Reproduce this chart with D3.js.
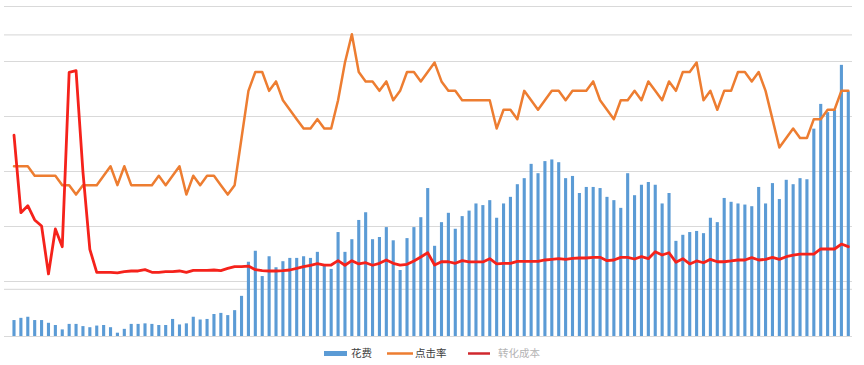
<!DOCTYPE html>
<html>
<head>
<meta charset="utf-8">
<script src="https://cdn.jsdelivr.net/npm/d3@7"></script>
<style>
	body { margin: 0; background: #fff; }
	svg { display: block; }
	.legend text { font-family: "Noto Sans CJK SC", "Noto Sans", sans-serif; font-size: 10.5px; }
</style>
</head>
<body>
<svg id="chart" width="864" height="365"></svg>
<script>
// 花费 (bars)
var spend = [
	290, 330, 350, 290, 290, 240, 200, 120, 220, 220,
	180, 160, 190, 200, 160, 60, 130, 220, 220, 230,
	220, 200, 200, 310, 210, 230, 350, 300, 310, 400,
	420, 380, 470, 730, 1350, 1550, 1090, 1450, 1250, 1360,
	1420, 1420, 1450, 1420, 1530, 1310, 1220, 1890, 1530, 1760,
	2110, 2250, 1760, 1800, 1980, 1740, 1200, 1780, 1980, 2160,
	2690, 1640, 2070, 2240, 1950, 2180, 2280, 2410, 2380, 2470,
	2150, 2410, 2530, 2760, 2870, 3130, 2960, 3180, 3210, 3160,
	2870, 2910, 2600, 2710, 2710, 2690, 2530, 2470, 2330, 2960,
	2560, 2750, 2800, 2750, 2410, 2600, 1730, 1840, 1890, 1910,
	1870, 2150, 2070, 2510, 2440, 2410, 2390, 2360, 2710, 2410,
	2780, 2490, 2840, 2760, 2870, 2850, 3770, 4220, 4070, 4110,
	4930, 4450
];

// 点击率 (%)
var clickRate = [
	1.8, 1.8, 1.8, 1.7, 1.7, 1.7, 1.7, 1.6, 1.6, 1.5,
	1.6, 1.6, 1.6, 1.7, 1.8, 1.6, 1.8, 1.6, 1.6, 1.6,
	1.6, 1.7, 1.6, 1.7, 1.8, 1.5, 1.7, 1.6, 1.7, 1.7,
	1.6, 1.5, 1.6, 2.1, 2.6, 2.8, 2.8, 2.6, 2.7, 2.5,
	2.4, 2.3, 2.2, 2.2, 2.3, 2.2, 2.2, 2.5, 2.9, 3.2,
	2.8, 2.7, 2.7, 2.6, 2.7, 2.5, 2.6, 2.8, 2.8, 2.7,
	2.8, 2.9, 2.7, 2.6, 2.6, 2.5, 2.5, 2.5, 2.5, 2.5,
	2.2, 2.4, 2.4, 2.3, 2.6, 2.5, 2.4, 2.5, 2.6, 2.6,
	2.5, 2.6, 2.6, 2.6, 2.7, 2.5, 2.4, 2.3, 2.5, 2.5,
	2.6, 2.5, 2.7, 2.6, 2.5, 2.7, 2.6, 2.8, 2.8, 2.9,
	2.5, 2.6, 2.4, 2.6, 2.6, 2.8, 2.8, 2.7, 2.8, 2.6,
	2.3, 2.0, 2.1, 2.2, 2.1, 2.1, 2.3, 2.3, 2.4, 2.4,
	2.6, 2.6
];

// 转化成本
var cost = [
	182.7, 112.1, 118.5, 105.5, 100.0, 56.4, 97.3, 81.2, 239.7, 241.2,
	149.1, 78.8, 57.9, 57.9, 57.9, 57.3, 58.5, 59.1, 59.1, 60.3,
	57.9, 57.9, 58.5, 58.5, 59.1, 57.9, 59.7, 59.7, 59.7, 60.0,
	59.5, 61.4, 63.0, 63.0, 63.6, 60.3, 59.5, 59.1, 59.1, 59.4,
	60.0, 61.4, 63.0, 64.3, 65.7, 64.5, 64.5, 68.5, 64.3, 68.5,
	65.5, 66.6, 64.3, 66.1, 69.1, 66.1, 64.5, 65.2, 68.2, 71.8,
	75.7, 64.5, 67.5, 67.5, 66.1, 68.5, 67.3, 67.3, 67.3, 70.3,
	65.5, 66.1, 66.1, 67.9, 67.9, 67.9, 67.9, 69.1, 69.7, 70.3,
	69.7, 70.6, 70.9, 70.9, 71.5, 71.5, 68.5, 69.1, 71.5, 71.5,
	70.0, 72.1, 70.3, 76.6, 73.6, 75.7, 67.0, 70.3, 65.5, 68.2,
	66.6, 69.7, 67.5, 67.5, 68.2, 69.1, 69.1, 71.2, 69.1, 69.7,
	71.5, 69.7, 72.1, 73.6, 74.5, 74.5, 74.5, 79.1, 79.1, 79.1,
	83.6, 81.2
];

// one category per day
var days = spend.map(function ( d, i ) { return 'D' + ( i + 1 ); });

var spendTicks = [0, 1000, 2000, 3000, 4000, 5000, 6000];
var rateTicks = [0.5, 3.2];

var legendItems = [
	{ name: '花费', type: 'bar', color: '#5b9bd5', text: '#404040' },
	{ name: '点击率', type: 'line', color: '#ed7d31', text: '#404040' },
	{ name: '转化成本', type: 'line', color: '#d0282e', text: '#b4b4b4' }
];

var svg = d3.select( '#chart' );

var x = d3.scaleBand()
	.domain( days )
	.range( [10.55, 851.75] )
	.paddingInner( 0.55 )
	.paddingOuter( 0.275 );

var ySpend = d3.scaleLinear().domain( [0, 6000] ).range( [336, 6] );
var yRate = d3.scaleLinear().domain( [0, 3.5] ).range( [336, 6] );
var yCost = d3.scaleLinear().domain( [0, 300] ).range( [336, 6] );

// gridlines
var grid = svg.append( 'g' ).attr( 'transform', 'translate(4,0)' )
	.call( d3.axisRight( ySpend ).tickValues( spendTicks ).tickSize( 848 ).tickFormat( '' ) );
grid.select( '.domain' ).remove();
grid.selectAll( 'line' ).attr( 'stroke', '#d9d9d9' ).attr( 'stroke-width', 1 );

var grid2 = svg.append( 'g' ).attr( 'transform', 'translate(4,0)' )
	.call( d3.axisRight( yRate ).tickValues( rateTicks ).tickSize( 848 ).tickFormat( '' ) );
grid2.select( '.domain' ).remove();
grid2.selectAll( 'line' ).attr( 'stroke', '#dedede' ).attr( 'stroke-width', 1.2 );

// bars
svg.append( 'g' ).selectAll( 'rect' )
	.data( spend )
	.enter()
	.append( 'rect' )
	.attr( 'x', function ( d, i ) { return x( days[i] ); } )
	.attr( 'y', function ( d ) { return ySpend( d ); } )
	.attr( 'width', x.bandwidth() )
	.attr( 'height', function ( d ) { return ySpend( 0 ) - ySpend( d ); } )
	.style( 'fill', '#5b9bd5' );

var cx = function ( d, i ) { return x( days[i] ) + x.bandwidth() / 2; };

svg.append( 'path' )
	.datum( clickRate )
	.attr( 'd', d3.line().x( cx ).y( function ( d ) { return yRate( d ); } ) )
	.attr( 'fill', 'none' )
	.attr( 'stroke', '#ed7d31' )
	.attr( 'stroke-width', 2.5 )
	.attr( 'stroke-linejoin', 'round' )
	.attr( 'stroke-linecap', 'round' );

svg.append( 'path' )
	.datum( cost )
	.attr( 'd', d3.line().x( cx ).y( function ( d ) { return yCost( d ); } ) )
	.attr( 'fill', 'none' )
	.attr( 'stroke', '#f5221b' )
	.attr( 'stroke-width', 2.8 )
	.attr( 'stroke-linejoin', 'round' )
	.attr( 'stroke-linecap', 'round' );

// legend
var legendX = [324, 387, 468];
var legend = svg.append( 'g' ).attr( 'class', 'legend' );
var item = legend.selectAll( 'g' )
	.data( legendItems )
	.enter()
	.append( 'g' )
	.attr( 'transform', function ( d, i ) { return 'translate(' + legendX[i] + ',353.5)'; } );

item.filter( function ( d ) { return d.type === 'bar'; } )
	.append( 'rect' )
	.attr( 'x', 0 ).attr( 'y', -2.5 )
	.attr( 'width', 23 ).attr( 'height', 5 )
	.style( 'fill', function ( d ) { return d.color; } );

item.filter( function ( d ) { return d.type === 'line'; } )
	.append( 'line' )
	.attr( 'x1', 0 ).attr( 'x2', function ( d, i ) { return i === 0 ? 26 : 22; } )
	.attr( 'stroke', function ( d ) { return d.color; } )
	.attr( 'stroke-width', 2.5 );

item.append( 'text' )
	.attr( 'x', function ( d, i ) { return [27, 28, 30][i]; } )
	.attr( 'dy', '0.35em' )
	.style( 'fill', function ( d ) { return d.text; } )
	.text( function ( d ) { return d.name; } );
</script>
</body>
</html>
